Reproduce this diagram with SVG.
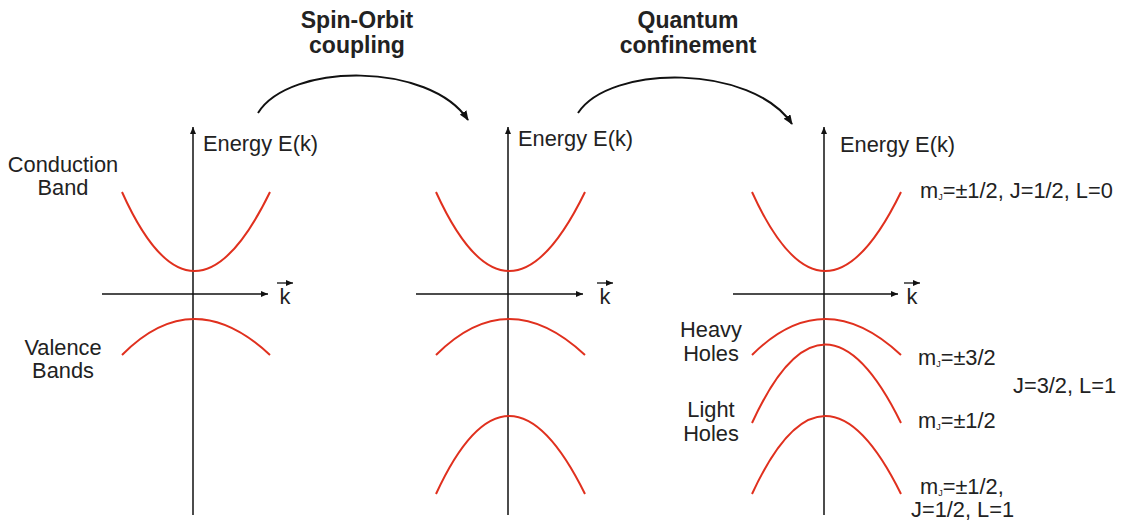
<svg xmlns="http://www.w3.org/2000/svg" width="1130" height="525" viewBox="0 0 1130 525">
<defs>
<marker id="ah" markerUnits="userSpaceOnUse" markerWidth="10" markerHeight="8" refX="9" refY="4" orient="auto"><path d="M0,0 L10,4 L0,8 Z" fill="#111"/></marker>
<marker id="ahs" markerUnits="userSpaceOnUse" markerWidth="7" markerHeight="6" refX="7" refY="3" orient="auto"><path d="M0,0 L7,3 L0,6 Z" fill="#111"/></marker>
<style>
.t{font-family:"Liberation Sans",Arial,sans-serif;font-size:21.8px;fill:#222}
.b{font-family:"Liberation Sans",Arial,sans-serif;font-size:23px;font-weight:bold;fill:#222;text-anchor:middle}
.m{text-anchor:middle}
.ax{stroke:#111;stroke-width:1.5;fill:none}
.band{stroke:#e0301e;stroke-width:2;fill:none}
.arc{stroke:#111;stroke-width:2;fill:none}
.sub{font-size:9px}
</style>
</defs>
<g id="connectors">
<path class="arc" d="M258 113 C290 62, 430 62, 468 120" marker-end="url(#ah)"/>
<path class="arc" d="M578 113 C610 64, 752 64, 792 124" marker-end="url(#ah)"/>
</g>
<g id="titles">
<text class="b" x="357" y="28">Spin-Orbit</text>
<text class="b" x="357" y="53">coupling</text>
<text class="b" x="688" y="28">Quantum</text>
<text class="b" x="688" y="53">confinement</text>
</g>
<g id="panel1">
<line class="ax" x1="193" y1="515" x2="193" y2="127" marker-end="url(#ahs)"/>
<line class="ax" x1="102" y1="294" x2="268" y2="294" marker-end="url(#ahs)"/>
<text class="t" x="203" y="151">Energy E(k)</text>
<text class="t m" x="285" y="304">k</text>
<line x1="277" y1="283" x2="293" y2="283" stroke="#111" stroke-width="1.3" marker-end="url(#ahs)"/>
<path class="band" d="M122 192 Q193 350 270 192"/>
<path class="band" d="M122 355 Q193 283 270 355"/>
<text class="t m" x="63" y="172">Conduction</text>
<text class="t m" x="63" y="195">Band</text>
<text class="t m" x="63" y="355">Valence</text>
<text class="t m" x="63" y="378">Bands</text>
</g>
<g id="panel2">
<line class="ax" x1="508" y1="515" x2="508" y2="127" marker-end="url(#ahs)"/>
<line class="ax" x1="416" y1="294" x2="583" y2="294" marker-end="url(#ahs)"/>
<text class="t" x="518" y="146">Energy E(k)</text>
<text class="t m" x="605" y="304">k</text>
<line x1="597" y1="283" x2="613" y2="283" stroke="#111" stroke-width="1.3" marker-end="url(#ahs)"/>
<path class="band" d="M436 192 Q508 350 585 192"/>
<path class="band" d="M436 355 Q508 283 585 355"/>
<path class="band" d="M436 494 Q508 338 585 494"/>
</g>
<g id="panel3">
<line class="ax" x1="824" y1="515" x2="824" y2="127" marker-end="url(#ahs)"/>
<line class="ax" x1="733" y1="294" x2="898" y2="294" marker-end="url(#ahs)"/>
<text class="t" x="840" y="152">Energy E(k)</text>
<text class="t m" x="912" y="304">k</text>
<line x1="904" y1="283" x2="920" y2="283" stroke="#111" stroke-width="1.3" marker-end="url(#ahs)"/>
<path class="band" d="M752 192 Q824 350 901 192"/>
<path class="band" d="M752 355 Q824 283 901 355"/>
<path class="band" d="M752 423 Q824 266 901 423"/>
<path class="band" d="M752 494 Q824 338 901 494"/>
<text class="t m" x="711" y="337">Heavy</text>
<text class="t m" x="711" y="361">Holes</text>
<text class="t m" x="711" y="417">Light</text>
<text class="t m" x="711" y="441">Holes</text>
<text class="t" x="920" y="198">m<tspan class="sub" dy="2">J</tspan><tspan dy="-2">=±1/2, J=1/2, L=0</tspan></text>
<text class="t" x="918" y="365">m<tspan class="sub" dy="2">J</tspan><tspan dy="-2">=±3/2</tspan></text>
<text class="t" x="1013" y="393">J=3/2, L=1</text>
<text class="t" x="918" y="428">m<tspan class="sub" dy="2">J</tspan><tspan dy="-2">=±1/2</tspan></text>
<text class="t" x="920" y="494">m<tspan class="sub" dy="2">J</tspan><tspan dy="-2">=±1/2,</tspan></text>
<text class="t" x="911" y="517">J=1/2, L=1</text>
</g>
</svg>
